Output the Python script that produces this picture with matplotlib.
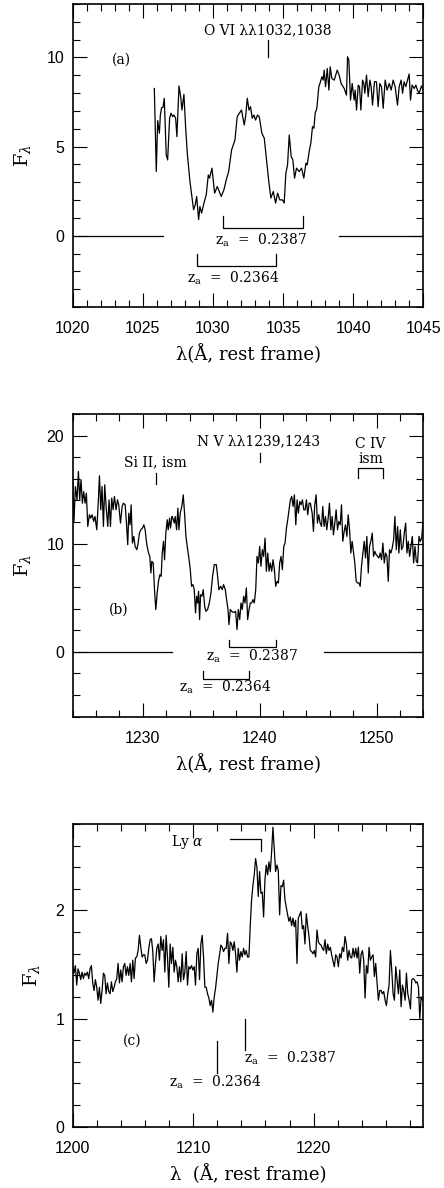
import numpy as np
import matplotlib
matplotlib.use("Agg")
import matplotlib.pyplot as plt
from matplotlib.ticker import MultipleLocator

plt.rcParams['font.family'] = ['DejaVu Serif']
plt.rcParams['mathtext.fontset'] = 'dejavuserif'

# ---------------- Panel (a): O VI region ----------------
lam_a = [1025.82, 1025.96, 1026.06, 1026.18, 1026.25, 1026.34, 1026.44, 1026.53, 1026.67, 1026.77,
         1026.91, 1027.01, 1027.13, 1027.22, 1027.34, 1027.43, 1027.58, 1027.70, 1027.79, 1027.93,
         1028.05, 1028.17, 1028.36, 1028.50, 1028.62, 1028.74, 1028.84, 1028.98, 1029.07, 1029.19,
         1029.36, 1029.52, 1029.67, 1029.76, 1029.93, 1030.12, 1030.31, 1030.59, 1030.78, 1030.95,
         1031.12, 1031.33, 1031.57, 1031.73, 1031.88, 1032.04, 1032.23, 1032.33, 1032.45, 1032.57,
         1032.68, 1032.80, 1032.92, 1033.04, 1033.18, 1033.30, 1033.49, 1033.66, 1033.82, 1033.97,
         1034.13, 1034.30, 1034.47, 1034.61, 1034.77, 1034.96, 1035.08, 1035.20, 1035.32, 1035.44,
         1035.58, 1035.70, 1035.82, 1035.96, 1036.15, 1036.32, 1036.48, 1036.63, 1036.72, 1036.86,
         1036.98, 1037.10, 1037.20, 1037.29, 1037.41, 1037.55, 1037.67, 1037.77, 1037.86, 1037.93,
         1038.03, 1038.15, 1038.27, 1038.36, 1038.48, 1038.65, 1038.86, 1039.00, 1039.14, 1039.36,
         1039.52, 1039.60, 1039.69, 1039.81, 1039.93, 1040.07, 1040.14, 1040.24, 1040.36, 1040.45,
         1040.55, 1040.67, 1040.76, 1040.83, 1040.95, 1041.07, 1041.19, 1041.28, 1041.38, 1041.52,
         1041.66, 1041.78, 1041.90, 1042.02, 1042.14, 1042.28, 1042.42, 1042.57, 1042.71, 1042.85,
         1042.99, 1043.16, 1043.28, 1043.42, 1043.52, 1043.63, 1043.75, 1043.99, 1044.09, 1044.20,
         1044.35, 1044.47, 1044.58, 1044.70, 1044.87, 1044.99]
flux_a = [8.26, 3.60, 6.46, 5.75, 6.77, 7.18, 7.20, 7.71, 4.53, 4.25,
          6.59, 6.87, 6.68, 6.77, 6.59, 5.56, 8.40, 7.80, 7.05, 7.93,
          6.12, 4.63, 3.04, 2.20, 1.46, 1.74, 2.20, 0.90, 1.64, 1.27,
          1.83, 2.29, 3.41, 3.23, 3.79, 2.39, 2.76, 2.20, 2.57, 3.13,
          3.60, 4.81, 5.37, 6.68, 6.87, 7.05, 6.21, 6.68, 7.71, 7.05,
          7.24, 6.59, 6.77, 6.49, 6.77, 6.68, 5.75, 5.47, 4.25, 3.13,
          2.11, 2.48, 1.83, 2.39, 2.01, 2.01, 1.83, 3.51, 3.97, 5.65,
          4.44, 4.25, 3.23, 3.79, 3.60, 3.79, 3.23, 4.07, 3.97, 4.72,
          5.19, 6.12, 6.03, 6.87, 7.15, 8.36, 8.64, 8.92, 8.73, 9.29,
          8.36, 9.38, 8.17, 9.48, 8.82, 8.73, 9.29, 9.01, 8.54, 8.26,
          7.89, 10.04, 9.85, 7.61, 8.54, 7.61, 8.17, 7.05, 8.45, 8.36,
          7.05, 8.73, 8.54, 7.99, 9.01, 7.80, 8.73, 8.36, 7.33, 8.64,
          8.64, 7.24, 8.54, 8.36, 7.15, 8.73, 8.17, 8.54, 8.17, 8.73,
          8.36, 7.33, 8.36, 8.73, 7.99, 8.64, 8.36, 9.07, 7.61, 8.45,
          8.26, 8.45, 8.17, 7.99, 8.40, 8.17]

# ---------------- Panel (b): N V region ----------------
lam_b = [1224.00, 1224.11, 1224.23, 1224.37, 1224.49, 1224.60, 1224.71, 1224.83, 1224.94, 1225.06,
         1225.17, 1225.29, 1225.43, 1225.54, 1225.66, 1225.80, 1225.91, 1226.06, 1226.17, 1226.29,
         1226.40, 1226.51, 1226.63, 1226.74, 1226.86, 1227.00, 1227.11, 1227.23, 1227.34, 1227.46,
         1227.57, 1227.71, 1227.83, 1227.94, 1228.09, 1228.23, 1228.34, 1228.49, 1228.60, 1228.71,
         1228.80, 1228.91, 1229.00, 1229.11, 1229.23, 1229.34, 1229.49, 1229.60, 1229.71, 1229.83,
         1229.97, 1230.09, 1230.20, 1230.29, 1230.37, 1230.49, 1230.60, 1230.69, 1230.77, 1230.89,
         1231.00, 1231.11, 1231.23, 1231.34, 1231.46, 1231.57, 1231.66, 1231.77, 1231.86, 1231.97,
         1232.09, 1232.17, 1232.29, 1232.37, 1232.49, 1232.57, 1232.69, 1232.77, 1232.89, 1233.00,
         1233.09, 1233.20, 1233.34, 1233.46, 1233.57, 1233.69, 1233.80, 1233.94, 1234.06, 1234.17,
         1234.29, 1234.40, 1234.51, 1234.60, 1234.69, 1234.77, 1234.86, 1234.94, 1235.06, 1235.17,
         1235.29, 1235.40, 1235.54, 1235.69, 1235.83, 1235.97, 1236.11, 1236.29, 1236.40, 1236.51,
         1236.66, 1236.80, 1236.91, 1237.06, 1237.17, 1237.29, 1237.37, 1237.49, 1237.60, 1237.71,
         1237.83, 1237.94, 1238.06, 1238.17, 1238.29, 1238.40, 1238.51, 1238.63, 1238.74, 1238.86,
         1238.97, 1239.09, 1239.20, 1239.31, 1239.43, 1239.54, 1239.66, 1239.77, 1239.89, 1240.00,
         1240.11, 1240.23, 1240.34, 1240.46, 1240.57, 1240.69, 1240.80, 1240.91, 1241.03, 1241.14,
         1241.26, 1241.37, 1241.49, 1241.60, 1241.71, 1241.83, 1241.94, 1242.06, 1242.17, 1242.29,
         1242.40, 1242.51, 1242.63, 1242.74, 1242.86, 1242.97, 1243.09, 1243.20, 1243.31, 1243.43,
         1243.54, 1243.66, 1243.77, 1243.89, 1244.00, 1244.11, 1244.23, 1244.34, 1244.49, 1244.60,
         1244.71, 1244.83, 1244.94, 1245.06, 1245.17, 1245.29, 1245.40, 1245.51, 1245.63, 1245.74,
         1245.86, 1245.97, 1246.09, 1246.20, 1246.31, 1246.43, 1246.54, 1246.66, 1246.77, 1246.89,
         1247.00, 1247.11, 1247.23, 1247.34, 1247.46, 1247.57, 1247.69, 1247.80, 1247.91, 1248.03,
         1248.14, 1248.26, 1248.37, 1248.49, 1248.60, 1248.71, 1248.83, 1248.94, 1249.06, 1249.17,
         1249.29, 1249.40, 1249.51, 1249.63, 1249.74, 1249.86, 1249.97, 1250.09, 1250.20, 1250.31,
         1250.43, 1250.54, 1250.66, 1250.77, 1250.89, 1251.00, 1251.11, 1251.23, 1251.34, 1251.46,
         1251.57, 1251.69, 1251.80, 1251.91, 1252.03, 1252.14, 1252.26, 1252.37, 1252.49, 1252.60,
         1252.71, 1252.83, 1252.94, 1253.06, 1253.17, 1253.29, 1253.40, 1253.51, 1253.63, 1253.74,
         1253.86, 1253.97]
flux_b = [16.06, 12.06, 15.29, 14.06, 16.68, 14.06, 15.91, 13.75, 14.83, 13.75,
          14.68, 11.60, 12.68, 12.37, 12.68, 12.06, 12.52, 11.29, 13.45, 16.28,
          13.14, 15.29, 11.60, 15.45, 13.45, 11.60, 14.06, 11.60, 14.22, 13.14,
          14.37, 13.14, 14.06, 13.60, 11.91, 13.45, 13.75, 13.60, 11.91, 9.91,
          12.83, 11.75, 13.60, 10.06, 10.68, 9.75, 9.45, 10.06, 10.98, 11.29,
          11.45, 11.75, 11.29, 10.37, 9.75, 9.14, 8.83, 7.29, 8.37, 8.22,
          5.75, 3.91, 5.45, 6.52, 7.14, 6.98, 9.14, 10.22, 8.52, 10.98,
          12.22, 11.29, 12.37, 11.45, 12.52, 12.37, 11.91, 12.52, 11.29, 13.29,
          11.29, 12.83, 13.45, 14.52, 12.83, 10.68, 9.75, 8.68, 7.60, 6.06,
          6.22, 5.75, 3.60, 5.14, 4.52, 5.60, 2.98, 5.29, 5.14, 5.75,
          4.22, 3.75, 3.91, 4.52, 5.45, 6.98, 8.06, 8.06, 6.98, 5.75,
          6.06, 5.75, 6.22, 5.75, 4.83, 3.91, 2.52, 3.91, 3.75, 3.66,
          3.66, 3.75, 2.06, 3.91, 2.98, 4.52, 3.91, 5.14, 4.52, 5.91,
          2.98, 3.91, 4.52, 4.52, 4.83, 4.52, 5.75, 8.83, 8.22, 9.75,
          7.91, 9.45, 8.83, 10.52, 7.45, 9.14, 7.45, 8.22, 7.45, 8.52,
          7.60, 6.06, 6.52, 6.37, 8.22, 8.83, 7.60, 9.75, 10.06, 11.45,
          12.22, 13.14, 14.06, 14.37, 13.45, 14.52, 11.75, 14.06, 12.83, 13.91,
          13.60, 14.06, 13.14, 13.14, 14.06, 12.68, 13.75, 13.75, 12.83, 11.14,
          13.60, 14.52, 11.91, 12.68, 11.91, 11.60, 13.45, 11.60, 12.52, 11.29,
          12.37, 13.75, 11.29, 12.52, 10.83, 11.91, 13.14, 11.29, 12.06, 11.75,
          13.60, 10.22, 11.14, 11.75, 10.68, 12.68, 11.29, 9.14, 10.22, 9.14,
          8.22, 6.52, 6.37, 6.37, 6.06, 7.91, 9.14, 10.22, 8.68, 10.68,
          7.29, 9.75, 10.22, 10.98, 8.83, 9.29, 8.98, 8.83, 8.68, 9.14,
          8.52, 10.06, 8.22, 9.14, 8.83, 6.52, 9.45, 9.14, 9.60, 10.37,
          12.52, 9.45, 11.60, 9.14, 11.29, 9.45, 9.75, 10.98, 11.91, 9.14,
          10.22, 8.83, 9.75, 10.68, 8.22, 9.75, 8.37, 8.22, 10.68, 10.22,
          10.52, 11.91]

# ---------------- Panel (c): Ly alpha region (uniform sampling) ----------------
lam_c_start = 1200.0
lam_c_step = 0.1108
flux_c = [1.48, 1.42, 1.49, 1.31, 1.46, 1.42, 1.36, 1.43, 1.37, 1.42,
          1.40, 1.43, 1.37, 1.46, 1.49, 1.33, 1.26, 1.36, 1.29, 1.17,
          1.29, 1.14, 1.26, 1.42, 1.40, 1.23, 1.33, 1.25, 1.23, 1.34,
          1.25, 1.29, 1.34, 1.37, 1.51, 1.33, 1.45, 1.34, 1.48, 1.51,
          1.40, 1.48, 1.40, 1.51, 1.34, 1.54, 1.37, 1.56, 1.57, 1.63,
          1.77, 1.66, 1.57, 1.59, 1.59, 1.51, 1.54, 1.65, 1.73, 1.74,
          1.62, 1.34, 1.51, 1.65, 1.69, 1.54, 1.76, 1.63, 1.73, 1.43,
          1.77, 1.57, 1.29, 1.69, 1.51, 1.66, 1.43, 1.54, 1.48, 1.34,
          1.48, 1.34, 1.60, 1.36, 1.43, 1.62, 1.31, 1.48, 1.46, 1.49,
          1.45, 1.48, 1.31, 1.60, 1.65, 1.36, 1.69, 1.77, 1.57, 1.29,
          1.29, 1.23, 1.19, 1.12, 1.17, 1.06, 1.20, 1.28, 1.40, 1.51,
          1.59, 1.68, 1.66, 1.62, 1.65, 1.65, 1.79, 1.51, 1.71, 1.69,
          1.63, 1.71, 1.60, 1.43, 1.65, 1.54, 1.62, 1.57, 1.65, 1.59,
          1.63, 1.57, 1.57, 1.86, 2.10, 2.23, 2.33, 2.48, 2.40, 2.13,
          2.36, 2.16, 2.17, 1.94, 2.28, 2.42, 2.33, 2.45, 2.36, 2.54,
          2.77, 2.56, 2.36, 2.42, 2.37, 1.96, 2.23, 2.22, 2.28, 2.10,
          2.03, 1.96, 1.90, 1.94, 1.86, 1.93, 1.85, 1.91, 1.51, 1.93,
          1.96, 1.99, 1.83, 1.86, 1.69, 1.97, 1.86, 1.76, 1.63, 1.62,
          1.60, 1.63, 1.57, 1.82, 1.71, 1.69, 1.68, 1.65, 1.63, 1.73,
          1.60, 1.69, 1.63, 1.66, 1.59, 1.53, 1.48, 1.59, 1.57, 1.48,
          1.60, 1.56, 1.66, 1.62, 1.76, 1.69, 1.54, 1.63, 1.57, 1.56,
          1.65, 1.57, 1.65, 1.56, 1.66, 1.42, 1.59, 1.63, 1.54, 1.19,
          1.49, 1.42, 1.66, 1.54, 1.57, 1.59, 1.39, 1.51, 1.33, 1.17,
          1.26, 1.26, 1.23, 1.25, 1.17, 1.12, 1.23, 1.31, 1.63, 1.45,
          1.23, 1.17, 1.48, 1.36, 1.23, 1.45, 1.11, 1.31, 1.26, 1.17,
          1.42, 1.23, 1.17, 1.09, 1.36, 1.37, 1.36, 1.33, 1.34, 1.29,
          1.00, 1.20, 1.17]
lam_c = lam_c_start + lam_c_step * np.arange(len(flux_c))

# ---------------- figure ----------------
W, H = 444, 1188
fig = plt.figure(figsize=(W / 100, H / 100), dpi=100)

def make_ax(top_px, bot_px):
    left_px, right_px = 72.7, 423.3
    return fig.add_axes([left_px / W, 1 - bot_px / H,
                         (right_px - left_px) / W, (bot_px - top_px) / H])

TICKFONT = 'Liberation Sans'
TXT = dict(fontsize=10, color='black')
LW = 0.9

def style(ax, xlim, ylim, xmaj, xmin, ymaj, ymin, xlabel):
    ax.set_xlim(*xlim)
    ax.set_ylim(*ylim)
    ax.xaxis.set_major_locator(MultipleLocator(xmaj))
    ax.xaxis.set_minor_locator(MultipleLocator(xmin))
    ax.yaxis.set_major_locator(MultipleLocator(ymaj))
    ax.yaxis.set_minor_locator(MultipleLocator(ymin))
    ax.tick_params(which='both', direction='in', top=True, right=True,
                   width=0.8, labelsize=11.5, labelfontfamily=TICKFONT)
    ax.tick_params(which='major', length=10)
    ax.tick_params(which='minor', length=5)
    ax.tick_params(axis='x', which='major', pad=10)
    ax.tick_params(axis='y', which='major', pad=6)
    for s in ax.spines.values():
        s.set_linewidth(1.2)
    ax.set_xlabel(xlabel, fontsize=13, labelpad=6)
    ax.set_ylabel(r'F$_\lambda$', fontsize=14, labelpad=10)

# ---- panel a ----
ax = make_ax(4, 307)
style(ax, (1020, 1045), (-4, 13), 5, 1, 5, 1, 'λ(Å, rest frame)')
ax.plot(lam_a, flux_a, color='black', lw=LW)
ax.plot([1020, 1026.46], [0, 0], color='black', lw=LW)
ax.plot([1038.98, 1045], [0, 0], color='black', lw=LW)
ax.text(1033.9, 11.55, 'O VI λλ1032,1038', ha='center', va='center', **TXT)
ax.plot([1033.94, 1033.94], [10.0, 10.97], color='black', lw=LW)
ax.text(1023.5, 9.9, '(a)', ha='center', va='center', **TXT)
ax.plot([1030.74, 1030.74, 1036.39, 1036.39], [1.12, 0.43, 0.43, 1.12], color='black', lw=LW)
ax.text(1033.4, -0.25, r'z$_{\rm a}$  =  0.2387', ha='center', va='center', **TXT)
ax.plot([1028.84, 1028.84, 1034.47, 1034.47], [-1.0, -1.72, -1.72, -1.0], color='black', lw=LW)
ax.text(1031.45, -2.37, r'z$_{\rm a}$  =  0.2364', ha='center', va='center', **TXT)

# ---- panel b ----
ax = make_ax(414, 716.7)
style(ax, (1224, 1254), (-6, 22), 10, 2, 10, 2, 'λ(Å, rest frame)')
ax.plot(lam_b, flux_b, color='black', lw=LW)
ax.plot([1224, 1232.49], [0, 0], color='black', lw=LW)
ax.plot([1245.49, 1254], [0, 0], color='black', lw=LW)
ax.text(1239.9, 19.5, 'N V λλ1239,1243', ha='center', va='center', **TXT)
ax.plot([1240.0, 1240.0], [17.6, 18.4], color='black', lw=LW)
ax.text(1231.06, 17.5, 'Si II, ism', ha='center', va='center', **TXT)
ax.plot([1231.11, 1231.11], [15.5, 16.5], color='black', lw=LW)
ax.text(1249.49, 19.2, 'C IV', ha='center', va='center', **TXT)
ax.text(1249.49, 17.8, 'ism', ha='center', va='center', **TXT)
ax.plot([1248.43, 1248.43, 1250.54, 1250.54], [16.06, 17.0, 17.0, 16.06], color='black', lw=LW)
ax.text(1227.97, 3.9, '(b)', ha='center', va='center', **TXT)
ax.plot([1237.4, 1237.4, 1241.37, 1241.37], [1.14, 0.46, 0.46, 1.14], color='black', lw=LW)
ax.text(1239.34, -0.45, r'z$_{\rm a}$  =  0.2387', ha='center', va='center', **TXT)
ax.plot([1235.11, 1235.11, 1239.06, 1239.06], [-1.78, -2.49, -2.49, -1.78], color='black', lw=LW)
ax.text(1237.06, -3.3, r'z$_{\rm a}$  =  0.2364', ha='center', va='center', **TXT)

# ---- panel c ----
ax = make_ax(824, 1126.7)
style(ax, (1200, 1229.1), (0, 2.8), 10, 2, 1, 0.2, 'λ  (Å, rest frame)')
ax.plot(lam_c, flux_c, color='black', lw=LW)
ax.text(1209.5, 2.635, r'Ly $\alpha$', ha='center', va='center', **TXT)
ax.plot([1213.02, 1215.65, 1215.65], [2.66, 2.66, 2.55], color='black', lw=LW)
ax.text(1204.96, 0.795, '(c)', ha='center', va='center', **TXT)
ax.plot([1211.97, 1211.97], [0.795, 0.499], color='black', lw=LW)
ax.text(1211.8, 0.41, r'z$_{\rm a}$  =  0.2364', ha='center', va='center', **TXT)
ax.plot([1214.32, 1214.32], [1.0, 0.709], color='black', lw=LW)
ax.text(1218.05, 0.635, r'z$_{\rm a}$  =  0.2387', ha='center', va='center', **TXT)

fig.savefig('out.png', dpi=100)
